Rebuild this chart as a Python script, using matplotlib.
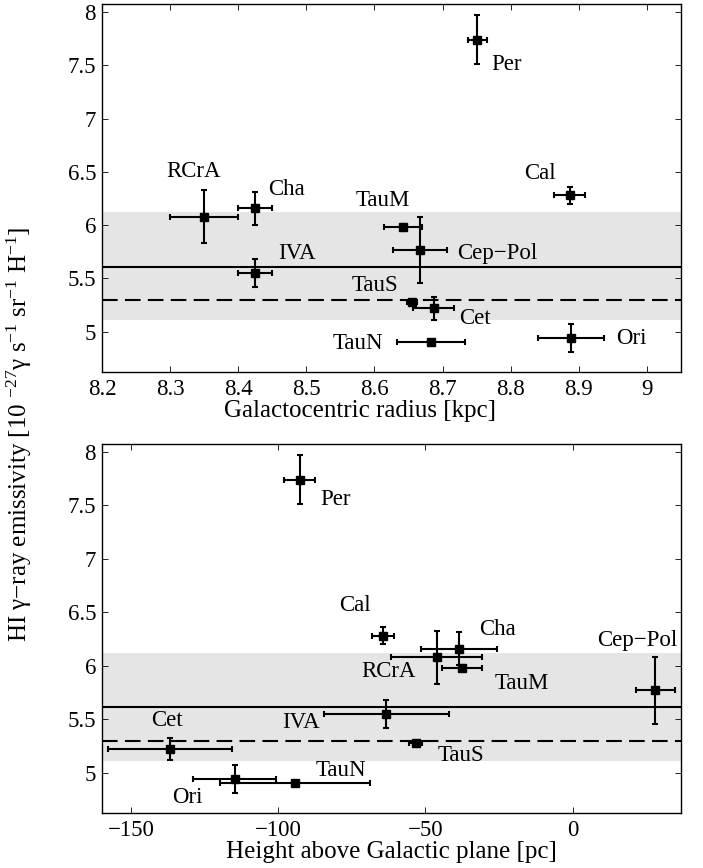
import matplotlib
matplotlib.use('Agg')
import matplotlib.pyplot as plt

plt.rcParams['font.family'] = ['Liberation Serif', 'DejaVu Serif']
plt.rcParams['mathtext.fontset'] = 'custom'
plt.rcParams['mathtext.rm'] = 'Liberation Serif'
plt.rcParams['mathtext.it'] = 'Liberation Serif:italic'
FS = 16.5        # cloud names and tick labels
LABEL_FS = 18    # axis titles
plt.rcParams['font.size'] = FS

# Clouds, in the same order for every array
names = ['Per', 'Cal', 'RCrA', 'Cha', 'TauM', 'Cep\u2212Pol', 'IVA', 'TauS', 'Cet', 'TauN', 'Ori']
emis = [7.74, 6.28, 6.08, 6.16, 5.98, 5.77, 5.55, 5.28, 5.22, 4.90, 4.94]
emis_err = [0.23, 0.08, 0.25, 0.155, 0.03, 0.31, 0.13, 0.02, 0.105, 0.02, 0.13]
radius = [8.751, 8.887, 8.350, 8.425, 8.642, 8.667, 8.425, 8.655, 8.687, 8.683, 8.889]
radius_err = [0.014, 0.023, 0.05, 0.025, 0.028, 0.04, 0.025, 0.007, 0.03, 0.05, 0.049]
height = [-92.7, -64.4, -46.2, -38.6, -37.6, 28.1, -63.2, -53.3, -136.7, -94.2, -114.8]
height_err = [5.2, 3.7, 15.5, 12.9, 6.9, 6.7, 21.2, 2.2, 21.2, 25.5, 14.2]

# Local emissivity: mean, alternative value and spread
mean_emis = 5.61
alt_emis = 5.30
band_lo, band_hi = 5.11, 6.12

# Label centres (data coordinates) per panel
radius_labels = {
    'Per': (8.794, 7.51), 'Cal': (8.843, 6.484), 'RCrA': (8.334, 6.50),
    'Cha': (8.471, 6.334), 'TauM': (8.612, 6.236), 'Cep\u2212Pol': (8.780, 5.736),
    'IVA': (8.486, 5.736), 'TauS': (8.601, 5.43), 'Cet': (8.747, 5.127),
    'TauN': (8.576, 4.892), 'Ori': (8.977, 4.939),
}
height_labels = {
    'Per': (-80.5, 7.553), 'Cal': (-73.8, 6.568), 'RCrA': (-62.6, 5.951),
    'Cha': (-25.4, 6.34), 'TauM': (-17.2, 5.833), 'Cep\u2212Pol': (21.9, 6.239),
    'IVA': (-92.4, 5.473), 'TauS': (-37.9, 5.16), 'Cet': (-137.8, 5.489),
    'TauN': (-78.8, 5.02), 'Ori': (-130.7, 4.77),
}


def draw_panel(ax, x, xerr, labels, xlim, xticks, xlabel, label_x):
    ax.axhspan(band_lo, band_hi, color='#e5e5e5', lw=0, zorder=0)
    ax.axhline(mean_emis, color='black', lw=1.5, zorder=1)
    ax.axhline(alt_emis, color='black', lw=1.5, ls=(0, (7.5, 3.5)), zorder=1)
    ax.errorbar(x, emis, xerr=xerr, yerr=emis_err, fmt='s', color='black',
                ms=6, elinewidth=1.5, capsize=2.5, capthick=1.5, zorder=3)
    for name in names:
        tx, ty = labels[name]
        ax.text(tx, ty, name, ha='center', va='center', fontsize=FS)
    ax.set_xlim(*xlim)
    ax.set_ylim(4.62, 8.075)
    ax.set_xticks(xticks)
    ax.set_yticks([5, 5.5, 6, 6.5, 7, 7.5, 8])
    ax.set_yticklabels(['5', '5.5', '6', '6.5', '7', '7.5', '8'])
    ax.tick_params(direction='in', top=True, right=True, length=4, width=0.6,
                   labelsize=FS, pad=4.5)
    for sp in ax.spines.values():
        sp.set_linewidth(1.0)
    ax.set_xlabel(xlabel, fontsize=LABEL_FS, labelpad=0, x=label_x)


fig = plt.figure(figsize=(7.03, 8.68), dpi=100)
ax1 = fig.add_axes([0.1455, 0.5711, 0.8228, 0.4243])
ax2 = fig.add_axes([0.1455, 0.0630, 0.8228, 0.4255])

draw_panel(ax1, radius, radius_err, radius_labels, (8.2, 9.05),
           [8.2, 8.3, 8.4, 8.5, 8.6, 8.7, 8.8, 8.9, 9.0],
           'Galactocentric radius [kpc]', 0.446)
ax1.set_xticklabels(['8.2', '8.3', '8.4', '8.5', '8.6', '8.7', '8.8', '8.9', '9'])
draw_panel(ax2, height, height_err, height_labels, (-159.7, 36.7),
           [-150, -100, -50, 0], 'Height above Galactic plane [pc]', 0.5)

fig.text(0.028, 0.5,
         'HI \u03b3\u2212ray emissivity [10 $^{-27}$\u03b3 s$^{-1}$ sr$^{-1}$ H$^{-1}$]',
         rotation=90, ha='center', va='center', fontsize=LABEL_FS)

fig.savefig('out.png', dpi=100)
